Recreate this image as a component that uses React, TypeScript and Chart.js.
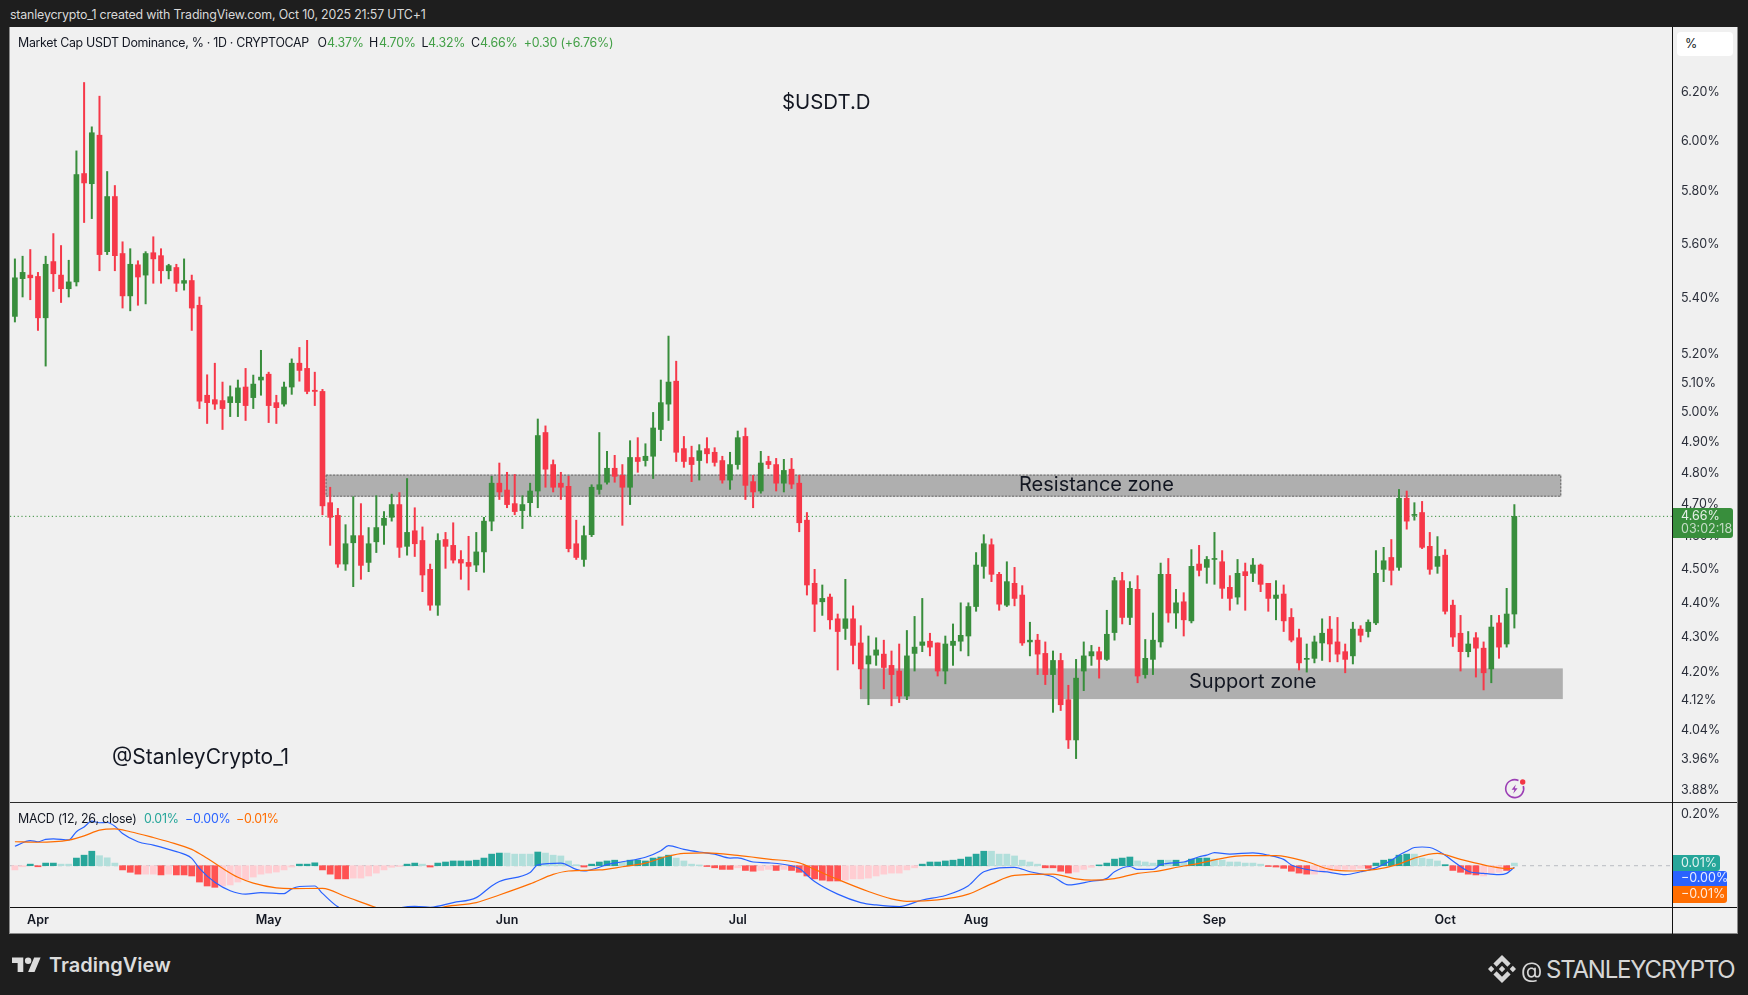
import React, { useEffect, useRef } from "react";
import { Chart, registerables } from "chart.js";

Chart.register(...registerables);

const FONT = "Inter, 'Noto Sans', sans-serif";

// Daily bars, index 0 = 29 Mar 2025
const opens = [
  5.33,5.467,5.48,5.475,5.325,5.53,5.48,5.43,5.455,5.867,
  5.827,6.02,5.567,5.777,5.56,5.404,5.518,5.48,5.563,5.552,
  5.496,5.508,5.45,5.46,5.37,5.055,5.04,5.037,5.03,5.03,
  5.083,5.047,5.107,5.127,5.03,5.025,5.083,5.165,5.147,5.072,
  5.068,4.703,4.663,4.513,4.578,4.6,4.518,4.581,4.632,4.657,
  4.697,4.567,4.615,4.585,4.497,4.39,4.588,4.57,4.527,4.518,
  4.51,4.55,4.645,4.765,4.743,4.7,4.678,4.703,4.74,4.93,
  4.825,4.765,4.755,4.575,4.527,4.603,4.745,4.768,4.813,4.79,
  4.752,4.848,4.838,4.852,4.94,5.025,5.103,4.877,4.848,4.838,
  4.877,4.865,4.838,4.775,4.825,4.917,4.77,4.74,4.835,4.825,
  4.765,4.81,4.765,4.648,4.455,4.4,4.414,4.35,4.322,4.35,
  4.28,4.22,4.245,4.248,4.216,4.2,4.13,4.25,4.273,4.285,
  4.28,4.2,4.273,4.285,4.3,4.386,4.506,4.572,4.482,4.39,
  4.455,4.42,4.283,4.288,4.25,4.19,4.23,4.12,4.01,4.2,
  4.243,4.255,4.233,4.31,4.463,4.354,4.437,4.19,4.233,4.283,
  4.482,4.367,4.4,4.344,4.513,4.503,4.527,4.52,4.443,4.414,
  4.49,4.485,4.51,4.455,4.41,4.423,4.354,4.295,4.233,4.236,
  4.28,4.32,4.283,4.255,4.243,4.32,4.313,4.338,4.497,4.533,
  4.503,4.717,4.663,4.672,4.567,4.506,4.54,4.39,4.308,4.255,
  4.295,4.265,4.206,4.338,4.277,4.364,
];
const highs = [
  5.54,5.55,5.575,5.49,5.55,5.635,5.59,5.535,5.957,6.237,
  6.054,6.18,5.875,5.82,5.604,5.578,5.533,5.567,5.623,5.578,
  5.52,5.52,5.54,5.48,5.4,5.125,5.165,5.1,5.087,5.107,
  5.147,5.124,5.21,5.134,5.055,5.1,5.18,5.22,5.245,5.134,
  5.075,4.752,4.685,4.634,4.722,4.7,4.625,4.725,4.675,4.73,
  4.735,4.78,4.687,4.627,4.513,4.606,4.61,4.64,4.554,4.598,
  4.61,4.657,4.787,4.83,4.8,4.793,4.725,4.765,4.975,4.952,
  4.84,4.8,4.787,4.648,4.63,4.76,4.93,4.868,4.855,4.825,
  4.903,4.913,4.893,4.997,5.107,5.26,5.172,4.917,4.885,4.89,
  4.913,4.88,4.852,4.865,4.935,4.945,4.79,4.868,4.852,4.845,
  4.842,4.845,4.79,4.672,4.497,4.45,4.423,4.364,4.467,4.388,
  4.33,4.3,4.295,4.288,4.257,4.277,4.316,4.357,4.41,4.308,
  4.28,4.3,4.335,4.397,4.397,4.548,4.603,4.59,4.488,4.52,
  4.503,4.448,4.34,4.305,4.283,4.257,4.25,4.16,4.233,4.283,
  4.273,4.268,4.375,4.473,4.488,4.46,4.478,4.29,4.367,4.516,
  4.53,4.437,4.427,4.557,4.57,4.536,4.61,4.554,4.478,4.527,
  4.516,4.53,4.513,4.455,4.463,4.45,4.38,4.32,4.277,4.3,
  4.35,4.357,4.354,4.277,4.34,4.33,4.347,4.554,4.564,4.588,
  4.745,4.74,4.703,4.707,4.61,4.597,4.557,4.405,4.36,4.313,
  4.31,4.283,4.36,4.36,4.44,4.697,
];
const lows = [
  5.31,5.4,5.39,5.28,5.155,5.42,5.38,5.4,5.44,5.677,
  5.692,5.496,5.556,5.496,5.36,5.35,5.37,5.375,5.45,5.45,
  5.466,5.42,5.425,5.28,5.01,4.96,5.007,4.94,4.983,4.983,
  4.97,5.01,5.055,4.963,4.96,5.018,5.058,5.103,5.06,5.02,
  4.665,4.57,4.503,4.494,4.445,4.467,4.49,4.548,4.573,4.645,
  4.533,4.54,4.536,4.43,4.375,4.36,4.5,4.516,4.467,4.435,
  4.49,4.488,4.615,4.713,4.687,4.665,4.622,4.66,4.687,4.752,
  4.737,4.713,4.55,4.527,4.506,4.597,4.73,4.762,4.768,4.632,
  4.697,4.8,4.82,4.78,4.903,4.97,4.835,4.816,4.77,4.775,
  4.83,4.82,4.765,4.745,4.81,4.713,4.687,4.733,4.812,4.74,
  4.737,4.748,4.612,4.42,4.313,4.36,4.32,4.203,4.29,4.22,
  4.15,4.106,4.216,4.15,4.103,4.112,4.12,4.2,4.255,4.243,
  4.186,4.164,4.216,4.257,4.243,4.372,4.47,4.46,4.375,4.386,
  4.388,4.273,4.243,4.19,4.162,4.085,4.09,3.987,3.96,4.145,
  4.216,4.18,4.23,4.288,4.335,4.333,4.167,4.18,4.19,4.268,
  4.34,4.322,4.3,4.338,4.477,4.455,4.452,4.41,4.375,4.393,
  4.375,4.46,4.43,4.372,4.347,4.313,4.283,4.203,4.197,4.223,
  4.23,4.226,4.226,4.195,4.22,4.283,4.297,4.333,4.46,4.45,
  4.494,4.62,4.648,4.56,4.482,4.485,4.364,4.27,4.2,4.24,
  4.183,4.147,4.167,4.236,4.268,4.323,
];
const closes = [
  5.47,5.49,5.47,5.325,5.52,5.485,5.43,5.455,5.863,5.83,
  6.03,5.556,5.777,5.552,5.404,5.52,5.473,5.56,5.54,5.496,
  5.515,5.45,5.46,5.36,5.035,5.03,5.025,5.01,5.05,5.08,
  5.02,5.093,5.117,5.02,5.013,5.083,5.165,5.14,5.068,5.068,
  4.693,4.657,4.513,4.575,4.6,4.509,4.575,4.625,4.654,4.697,
  4.564,4.61,4.575,4.48,4.39,4.585,4.567,4.525,4.516,4.506,
  4.55,4.645,4.765,4.737,4.697,4.675,4.697,4.74,4.92,4.81,
  4.752,4.752,4.56,4.533,4.6,4.752,4.76,4.813,4.787,4.752,
  4.848,4.835,4.852,4.945,5.03,5.1,4.865,4.835,4.825,4.87,
  4.86,4.832,4.775,4.825,4.913,4.758,4.737,4.83,4.825,4.765,
  4.806,4.762,4.64,4.45,4.393,4.41,4.347,4.313,4.35,4.273,
  4.206,4.243,4.26,4.21,4.19,4.13,4.243,4.268,4.283,4.268,
  4.2,4.277,4.285,4.302,4.386,4.51,4.575,4.482,4.393,4.46,
  4.41,4.28,4.288,4.248,4.19,4.23,4.106,4.01,4.18,4.243,
  4.255,4.233,4.305,4.463,4.354,4.44,4.186,4.236,4.288,4.482,
  4.367,4.397,4.347,4.506,4.494,4.527,4.53,4.44,4.41,4.485,
  4.478,4.51,4.452,4.41,4.42,4.344,4.288,4.223,4.236,4.283,
  4.308,4.277,4.248,4.233,4.32,4.302,4.34,4.485,4.523,4.494,
  4.717,4.645,4.665,4.564,4.497,4.536,4.372,4.297,4.255,4.277,
  4.265,4.195,4.326,4.268,4.364,4.66,
];

const histogram = [
  -0.016,-0.004,0.006,-0.004,0.01,0.01,0.006,0.006,0.029,0.04,
  0.055,0.038,0.03,0.01,-0.016,-0.025,-0.032,-0.032,-0.032,-0.035,
  -0.032,-0.035,-0.035,-0.039,-0.062,-0.077,-0.082,-0.077,-0.073,-0.062,
  -0.053,-0.043,-0.032,-0.028,-0.024,-0.016,-0.005,0.006,0.006,0.011,
  -0.016,-0.032,-0.05,-0.05,-0.047,-0.047,-0.039,-0.028,-0.016,-0.006,
  -0.003,0.006,0.01,0.006,-0.005,0.01,0.014,0.018,0.018,0.018,
  0.021,0.029,0.044,0.048,0.048,0.044,0.044,0.044,0.052,0.048,
  0.04,0.037,0.018,0.004,-0.005,0.006,0.014,0.018,0.021,0.014,
  0.021,0.021,0.018,0.029,0.033,0.04,0.029,0.018,0.006,0.003,
  -0.003,-0.008,-0.014,-0.014,-0.008,-0.018,-0.021,-0.018,-0.014,-0.018,
  -0.014,-0.018,-0.025,-0.039,-0.05,-0.055,-0.058,-0.058,-0.055,-0.05,
  -0.05,-0.047,-0.039,-0.032,-0.028,-0.028,-0.016,-0.008,0.006,0.014,
  0.014,0.018,0.021,0.025,0.033,0.044,0.055,0.055,0.044,0.044,
  0.037,0.021,0.014,0.006,-0.008,-0.008,-0.021,-0.028,-0.024,-0.014,
  -0.006,0.003,0.01,0.025,0.029,0.033,0.018,0.014,0.01,0.021,
  0.021,0.021,0.014,0.025,0.029,0.029,0.025,0.021,0.014,0.014,
  0.01,0.01,0.006,-0.003,-0.005,-0.01,-0.021,-0.028,-0.032,-0.032,
  -0.025,-0.021,-0.018,-0.014,-0.014,-0.01,-0.01,0.01,0.021,0.025,
  0.04,0.044,0.044,0.029,0.025,0.018,0.004,-0.018,-0.025,-0.032,
  -0.035,-0.039,-0.028,-0.025,-0.018,0.01,
];
// 1 = saturated histogram colour, 0 = pale colour
const histogramStrong =
  "0011110011100011100101111110000000000111111100000001101111111111000010" +
  "0000111110111111000011110110010111111100000000001111111110000000111100" +
  "0111110001010111000000011111100000001111110000111110001";

const macdDays = [
  0,2,3,4,5,7,8,9,10,11,12,13,14,16,18,20,22,23,24,26,28,30,32,35,36,37,39,40,42,45,48,50,52,54,57,60,62,63,67,68,71,73,74,76,
  77,79,82,84,85,87,89,91,93,94,96,98,101,102,104,107,110,112,115,118,121,124,126,130,132,135,137,140,142,143,145,146,148,149,152,154,
  155,156,158,161,163,165,166,169,171,173,175,177,179,180,181,182,183,184,186,187,189,191,193,194,195,
];
const macdValues = [
  0.074,0.095,0.091,0.1,0.102,0.098,0.129,0.147,0.169,0.163,0.164,0.15,0.122,0.091,0.078,0.062,0.044,0.028,-0.01,-0.063,-0.095,-0.108,-0.102,-0.106,-0.088,-0.079,-0.077,-0.105,-0.156,-0.193,-0.186,-0.161,-0.154,-0.158,-0.14,-0.121,-0.077,-0.06,-0.026,0.003,0.01,-0.014,-0.02,-0.006,
  0.004,0.015,0.032,0.057,0.076,0.062,0.052,0.044,0.029,0.03,0.014,0.011,0,-0.011,-0.06,-0.108,-0.14,-0.149,-0.155,-0.13,-0.113,-0.076,-0.023,-0.006,-0.023,-0.042,-0.073,-0.059,-0.048,-0.023,-0.003,-0.014,-0.014,0.004,0.014,0.034,
  0.04,0.05,0.044,0.049,0.04,0.024,0.003,-0.019,-0.025,-0.034,-0.023,-0.008,0.021,0.04,0.055,0.069,0.071,0.069,0.04,0.018,-0.021,-0.029,-0.034,-0.029,-0.006,
];
const signalDays = [
  0,3,7,9,11,13,15,18,20,23,25,27,29,31,34,36,40,43,47,50,54,56,60,63,67,70,72,76,
  79,82,85,87,90,94,98,102,104,107,111,114,116,120,124,127,130,135,138,140,143,146,148,152,154,
  157,160,164,168,171,174,177,180,182,185,188,192,194,195,
];
const signalValues = [
  0.091,0.089,0.097,0.113,0.135,0.14,0.129,0.107,0.091,0.062,0.028,-0.01,-0.044,-0.066,-0.084,-0.087,-0.086,-0.117,-0.159,-0.186,-0.17,-0.155,-0.14,-0.111,-0.069,-0.033,-0.02,-0.016,
  -0.004,0.01,0.037,0.047,0.049,0.039,0.025,0.011,-0.014,-0.052,-0.098,-0.126,-0.135,-0.13,-0.108,-0.069,-0.037,-0.032,-0.05,-0.055,-0.049,-0.029,-0.023,-0.001,0.009,
  0.028,0.038,0.038,0.015,-0.014,-0.02,-0.014,0.006,0.029,0.047,0.024,-0.003,-0.011,-0.009,
];

const priceTicks = [6.2,6,5.8,5.6,5.4,5.2,5.1,5,4.9,4.8,4.7,4.6,4.5,4.4,4.3,4.2,4.12,4.04,3.96,3.88];
const macdTicks = [0.2];
const monthLabels = ["Apr","May","Jun","Jul","Aug","Sep","Oct"];
const monthDays = [3,33,64,94,125,156,186];
const lastPrice = 4.66;
const resistanceZone = { from: 40.4, to: 201.1, low: 4.722, high: 4.7925 };
const supportZone = { from: 109.9, to: 201.3, low: 4.1216, high: 4.2075 };

const UP = "#388e3c";
const DOWN = "#f63849";
const PANEL = "#f0f0f0";
const DAY_MIN = -0.637;
const DAY_MAX = 215.5;

const days = closes.map((_, i) => i);

const zonesPlugin = {
  id: "zones",
  beforeDatasetsDraw(chart: any) {
    const { ctx, scales } = chart;
    const draw = (z: any, dashed: boolean) => {
      const x0 = scales.x.getPixelForValue(z.from);
      const x1 = scales.x.getPixelForValue(z.to);
      const y0 = scales.y.getPixelForValue(z.high);
      const y1 = scales.y.getPixelForValue(z.low);
      ctx.save();
      ctx.fillStyle = "#afafaf";
      ctx.fillRect(x0, y0, x1 - x0, y1 - y0);
      if (dashed) {
        ctx.strokeStyle = "#666666";
        ctx.lineWidth = 1;
        ctx.setLineDash([2, 1.5]);
        ctx.strokeRect(x0 + 0.5, y0 + 0.5, x1 - x0 - 1, y1 - y0 - 1);
      }
      ctx.restore();
    };
    draw(resistanceZone, true);
    draw(supportZone, false);
  },
};

function xScale(showLabels: boolean) {
  return {
    type: "linear",
    min: DAY_MIN,
    max: DAY_MAX,
    offset: false,
    display: true,
    grid: { display: false, drawTicks: false },
    border: { display: false },
    afterBuildTicks(s: any) {
      s.ticks = monthDays.map((v) => ({ value: v }));
    },
    afterFit(s: any) {
      s.height = showLabels ? 27 : 0;
      s.paddingLeft = 0;
      s.paddingRight = 0;
      s.paddingTop = 0;
      s.paddingBottom = 0;
    },
    ticks: {
      display: showLabels,
      autoSkip: false,
      maxRotation: 0,
      padding: 6,
      color: "#131722",
      font: { family: FONT, size: 12.5, weight: "600" },
      callback: (v: number) => monthLabels[monthDays.indexOf(v)] ?? "",
    },
  };
}

function yScale(type: string, min: number, max: number, ticks: number[]) {
  return {
    type,
    position: "right",
    min,
    max,
    grid: { display: false, drawTicks: false },
    border: { display: false },
    afterBuildTicks(s: any) {
      s.ticks = ticks.map((v) => ({ value: v }));
    },
    afterFit(s: any) {
      s.width = 66;
      s.paddingTop = 0;
      s.paddingBottom = 0;
      s.paddingLeft = 0;
      s.paddingRight = 0;
    },
    ticks: {
      autoSkip: false,
      padding: 9,
      labelOffset: 1,
      color: "#2a2e39",
      font: { family: FONT, size: 12.5 },
      callback: (v: number) => Number(v).toFixed(2) + "%",
    },
  };
}

const commonOptions = {
  responsive: false,
  animation: false,
  events: [],
  layout: { padding: 0, autoPadding: false },
  plugins: { legend: { display: false }, tooltip: { enabled: false } },
};

const abs = (left: number, top: number, extra: any = {}): any => ({
  position: "absolute",
  left,
  top,
  whiteSpace: "nowrap",
  fontFamily: FONT,
  lineHeight: 1,
  ...extra,
});

function Txt({ x, y, size, color, weight, spacing, children }: any) {
  return (
    <div style={abs(x, y - size / 2, { fontSize: size, color, fontWeight: weight ?? 400, lineHeight: `${size}px`, letterSpacing: spacing ?? 0 })}>
      {children}
    </div>
  );
}

export default function App() {
  const priceRef = useRef<HTMLCanvasElement | null>(null);
  const macdRef = useRef<HTMLCanvasElement | null>(null);

  useEffect(() => {
    const candleColors = closes.map((c, i) => (c >= opens[i] ? UP : DOWN));
    const price = new Chart(priceRef.current as any, {
      type: "bar",
      data: {
        datasets: [
          {
            type: "line",
            data: [
              { x: DAY_MIN, y: lastPrice },
              { x: DAY_MAX, y: lastPrice },
            ],
            borderColor: UP,
            borderWidth: 1,
            borderDash: [1.2, 2.6],
            pointRadius: 0,
            order: 3,
          },
          {
            data: days.map((d) => ({ x: d, y: [lows[d], highs[d]] })),
            backgroundColor: candleColors,
            barThickness: 1.35,
            grouped: false,
            borderSkipped: false,
            order: 2,
          },
          {
            data: days.map((d) => ({ x: d, y: [Math.min(opens[d], closes[d]), Math.max(opens[d], closes[d]) ] })),
            backgroundColor: candleColors,
            barThickness: 5,
            minBarLength: 1,
            grouped: false,
            borderSkipped: false,
            order: 1,
          },
        ],
      } as any,
      options: {
        ...commonOptions,
        scales: {
          x: xScale(false),
          y: yScale("logarithmic", 3.843, 6.474, priceTicks),
        },
      } as any,
      plugins: [zonesPlugin],
    });

    const histColors = histogram.map((v, i) => {
      const strong = histogramStrong[i] === "1";
      if (v >= 0) return strong ? "#26a69a" : "#b2dfdb";
      return strong ? "#ff5252" : "#ffcdd2";
    });
    const macd = new Chart(macdRef.current as any, {
      type: "bar",
      data: {
        datasets: [
          {
            type: "line",
            data: macdDays.map((d, i) => ({ x: d, y: macdValues[i] })),
            borderColor: "#2962ff",
            borderWidth: 1.2,
            pointRadius: 0,
            cubicInterpolationMode: "monotone",
            order: 1,
          },
          {
            type: "line",
            data: signalDays.map((d, i) => ({ x: d, y: signalValues[i] })),
            borderColor: "#ff6d00",
            borderWidth: 1.2,
            pointRadius: 0,
            cubicInterpolationMode: "monotone",
            order: 0,
          },
          {
            data: days.map((d) => ({ x: d, y: histogram[d] })),
            backgroundColor: histColors,
            barThickness: 6.1,
            grouped: false,
            order: 2,
          },
          {
            type: "line",
            data: [
              { x: DAY_MIN, y: 0 },
              { x: DAY_MAX, y: 0 },
            ],
            borderColor: "#b9bbc2",
            borderWidth: 1,
            borderDash: [4, 4],
            pointRadius: 0,
            order: 3,
          },
        ],
      } as any,
      options: {
        ...commonOptions,
        scales: {
          x: xScale(true),
          y: yScale("linear", -0.1567, 0.238, macdTicks),
        },
      } as any,
    });

    return () => {
      price.destroy();
      macd.destroy();
    };
  }, []);

  return (
    <div style={{ position: "fixed", left: 0, top: 0, width: 1748, height: 995, background: "#1e1e1e", overflow: "hidden" }}>
      <Txt x={10} y={15.5} size={12.4} color="#d9d9d9" spacing={-0.17}>
        stanleycrypto_1 created with TradingView.com, Oct 10, 2025 21:57 UTC+1
      </Txt>

      <div style={abs(10, 27, { width: 1727, height: 906, background: PANEL, borderRight: "1px solid #8a8a8a", borderBottom: "1px solid #8a8a8a" })} />
      <canvas ref={priceRef} width={1728} height={793} style={{ position: "absolute", left: 10, top: 27, display: "block" }} />
      <canvas ref={macdRef} width={1728} height={131} style={{ position: "absolute", left: 10, top: 803, display: "block" }} />

      <div style={abs(10, 802, { width: 1727, height: 1, background: "#2a2a2a" })} />
      <div style={abs(10, 907, { width: 1662, height: 1, background: "#111111" })} />
      <div style={abs(1672, 27, { width: 1, height: 907, background: "#111111" })} />
      <div style={abs(1672, 907, { width: 65, height: 1, background: "#111111" })} />
      <div style={abs(9, 27, { width: 1, height: 907, background: "#8a8a8a" })} />

      <Txt x={18} y={42.7} size={12.4} color="#131722" spacing={-0.3}>Market Cap USDT Dominance, % · 1D · CRYPTOCAP</Txt>
      <Txt x={317.5} y={42.7} size={12.4} color="#131722">O</Txt>
      <Txt x={327} y={42.7} size={12.4} color="#43a047" spacing={-0.2}>4.37%</Txt>
      <Txt x={369} y={42.7} size={12.4} color="#131722">H</Txt>
      <Txt x={379} y={42.7} size={12.4} color="#43a047" spacing={-0.2}>4.70%</Txt>
      <Txt x={421.6} y={42.7} size={12.4} color="#131722">L</Txt>
      <Txt x={428} y={42.7} size={12.4} color="#43a047" spacing={-0.2}>4.32%</Txt>
      <Txt x={471} y={42.7} size={12.4} color="#131722">C</Txt>
      <Txt x={480} y={42.7} size={12.4} color="#43a047" spacing={-0.2}>4.66%</Txt>
      <Txt x={523.7} y={42.7} size={12.4} color="#43a047" spacing={-0.2}>+0.30 (+6.76%)</Txt>

      <Txt x={782} y={102.5} size={20.4} color="#131722">$USDT.D</Txt>
      <Txt x={112} y={756} size={21} color="#131722">@StanleyCrypto_1</Txt>
      <Txt x={1019} y={484} size={20} color="#131722">Resistance zone</Txt>
      <Txt x={1189} y={681} size={20} color="#131722">Support zone</Txt>

      <div style={abs(1677, 32, { width: 56, height: 24, background: "#ffffff", borderRadius: 4 })} />
      <Txt x={1685} y={44} size={12.5} color="#131722">%</Txt>

      <div style={abs(1673, 508, { width: 60, height: 30, background: UP, borderRadius: "0 3px 3px 0" })} />
      <Txt x={1681} y={516} size={12.5} color="#e6f0e7">4.66%</Txt>
      <Txt x={1681} y={529} size={12.5} color="#c4dcc6">03:02:18</Txt>

      <Txt x={18} y={819} size={12.4} color="#131722" spacing={-0.2}>MACD (12, 26, close)</Txt>
      <Txt x={144} y={819} size={12.4} color="#26a69a" spacing={-0.2}>0.01%</Txt>
      <Txt x={185} y={819} size={12.4} color="#2962ff" spacing={-0.2}>−0.00%</Txt>
      <Txt x={236} y={819} size={12.4} color="#ff6d00" spacing={-0.2}>−0.01%</Txt>

      <div style={abs(1673, 855, { width: 47, height: 16, background: "#26a69a", borderRadius: "0 3px 3px 0" })} />
      <div style={abs(1673, 871, { width: 54, height: 15, background: "#2962ff", borderRadius: "0 3px 0 0" })} />
      <div style={abs(1673, 886, { width: 54, height: 17, background: "#ff6d00", borderRadius: "0 0 3px 0" })} />
      <Txt x={1681} y={863} size={12.5} color="#e3f3f1">0.01%</Txt>
      <Txt x={1681} y={878.5} size={12.5} color="#e6ecff">−0.00%</Txt>
      <Txt x={1681} y={894.5} size={12.5} color="#ffe9d9">−0.01%</Txt>

      <svg width="24" height="24" viewBox="0 0 24 24" style={{ position: "absolute", left: 1503, top: 777 }}>
        <path d="M15.5 3.5 A9 9 0 1 0 20.3 9" fill="none" stroke="#9c3fb5" strokeWidth="1.6" />
        <path d="M12.8 7.5 L8.6 12.8 H11.4 L10.2 16.8 L14.6 11.2 H11.8 Z" fill="#9c3fb5" />
        <circle cx="19.7" cy="5" r="2.7" fill="#f23645" />
      </svg>

      <svg width="29" height="23" viewBox="0 0 36 28" style={{ position: "absolute", left: 12, top: 954 }}>
        <path fill="#dcdcdc" d="M14 22H7V11H0V4h14v18zM28 22h-8l7.5-18h8L28 22z" />
        <circle cx="20" cy="8" r="4" fill="#dcdcdc" />
      </svg>
      <Txt x={49} y={965} size={20} color="#dcdcdc" weight={600}>TradingView</Txt>

      <svg width="28" height="28" viewBox="0 0 126.61 126.61" style={{ position: "absolute", left: 1488, top: 955 }}>
        <path
          fill="#d6d6d6"
          d="M38.73 53.2l24.59-24.58 24.6 24.6 14.3-14.31L63.32 0 24.42 38.9l14.31 14.3zM0 63.31l14.3-14.31 14.31 14.31-14.31 14.3zM38.73 73.41l24.59 24.59 24.6-24.6 14.31 14.29-38.9 38.91-38.91-38.88-.02-.02 14.33-14.29zM98 63.31l14.3-14.31 14.31 14.3-14.31 14.32zM77.83 63.3L63.32 48.78 52.59 59.51l-1.24 1.23-2.54 2.54 14.51 14.5 14.51-14.47z"
        />
      </svg>
      <Txt x={1521} y={969.5} size={22} color="#d6d6d6">@</Txt>
      <Txt x={1546} y={969.5} size={24} color="#d6d6d6" spacing={-1.2}>STANLEYCRYPTO</Txt>
    </div>
  );
}
